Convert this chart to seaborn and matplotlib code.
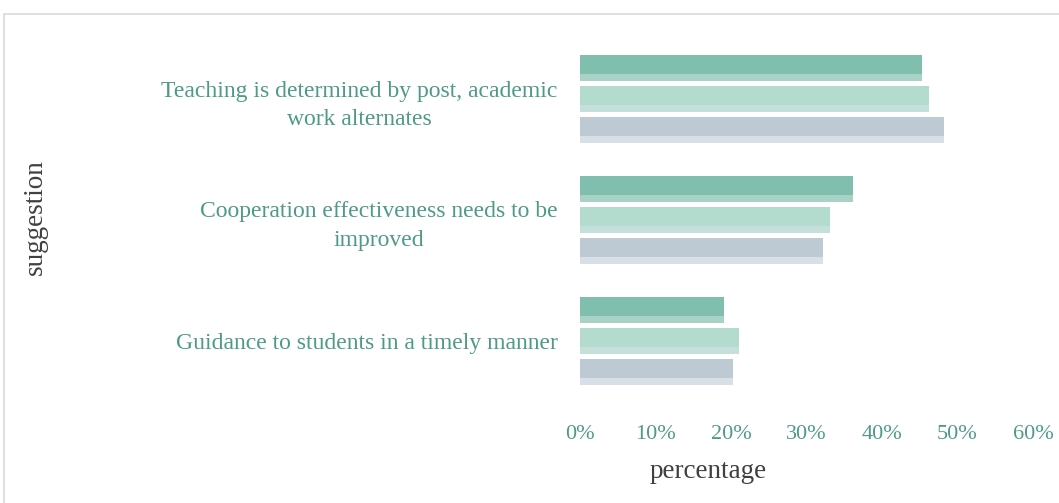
import matplotlib
matplotlib.use('Agg')
import matplotlib.pyplot as plt
import matplotlib.ticker as mtick
from matplotlib.patches import Rectangle
import seaborn as sns
import pandas as pd

# dados
categorias = ['Teaching is determined by post, academic\nwork alternates',
              'Cooperation effectiveness needs to be\nimproved',
              'Guidance to students in a timely manner']
series = ['A', 'B', 'C']
valores_a = [0.453, 0.361, 0.191]
valores_b = [0.462, 0.331, 0.211]
valores_c = [0.482, 0.322, 0.202]

cores = ['#80BEAE', '#B3DCCF', '#BDC9D3']
cores_faixa = ['#A9D2C7', '#C5DFDA', '#D9DFE6']
cor_texto = '#4E9A86'
cor_label = '#404040'

df = pd.DataFrame({
    'suggestion': categorias * 3,
    'serie': [s for s in series for _ in categorias],
    'percentage': valores_a + valores_b + valores_c,
})

sns.set_theme(style='white')
plt.rcParams['font.family'] = ['Liberation Serif', 'DejaVu Serif']

fig = plt.figure(figsize=(10.59, 5.03), dpi=100)
ax = fig.add_axes([580 / 1059, 1 - 401.5 / 503, 453 / 1059, 363 / 503])

sns.barplot(data=df, y='suggestion', x='percentage', hue='serie', palette=cores,
            orient='h', width=0.77, gap=0.16, ax=ax, legend=False, saturation=1,
            linewidth=0, edgecolor='none')

# faixa mais clara na parte de baixo de cada barra
n = len(categorias)
for i, p in enumerate(list(ax.patches)):
    cor = cores_faixa[i // n]
    h = p.get_height()
    ax.add_patch(Rectangle((p.get_x(), p.get_y() + h * 0.73), p.get_width(), h * 0.27,
                           facecolor=cor, edgecolor='none', linewidth=0,
                           zorder=p.get_zorder() + 0.1))

ax.set_xlim(0, 0.6)
ax.set_ylim(2.5, -0.5)
ax.xaxis.set_major_locator(mtick.MultipleLocator(0.1))
ax.xaxis.set_major_formatter(mtick.PercentFormatter(1.0, decimals=0))
ax.tick_params(axis='both', length=0, labelcolor=cor_texto)
ax.tick_params(axis='y', pad=16, labelsize=17)
ax.tick_params(axis='x', pad=17, labelsize=16)
for t in ax.get_yticklabels():
    t.set_multialignment('center')
    t.set_linespacing(1.45)

ax.set_xlabel('percentage', fontsize=19.5, color=cor_label)
ax.set_ylabel('suggestion', fontsize=19.5, color=cor_label)
ax.xaxis.label.set_va('center')
ax.yaxis.label.set_va('center')
ax.xaxis.set_label_coords(0.283, -0.192)
ax.yaxis.set_label_coords(-1.203, 0.508)
sns.despine(ax=ax, left=True, bottom=True)
ax.grid(False)

# moldura cinza do grafico
fig.patches.append(Rectangle((4 / 1059, -0.1), 1.2, 1 - 14 / 503 + 0.1, transform=fig.transFigure,
                             fill=False, edgecolor='#D9D9D9', linewidth=1.2))

fig.savefig('out.png', dpi=100)
